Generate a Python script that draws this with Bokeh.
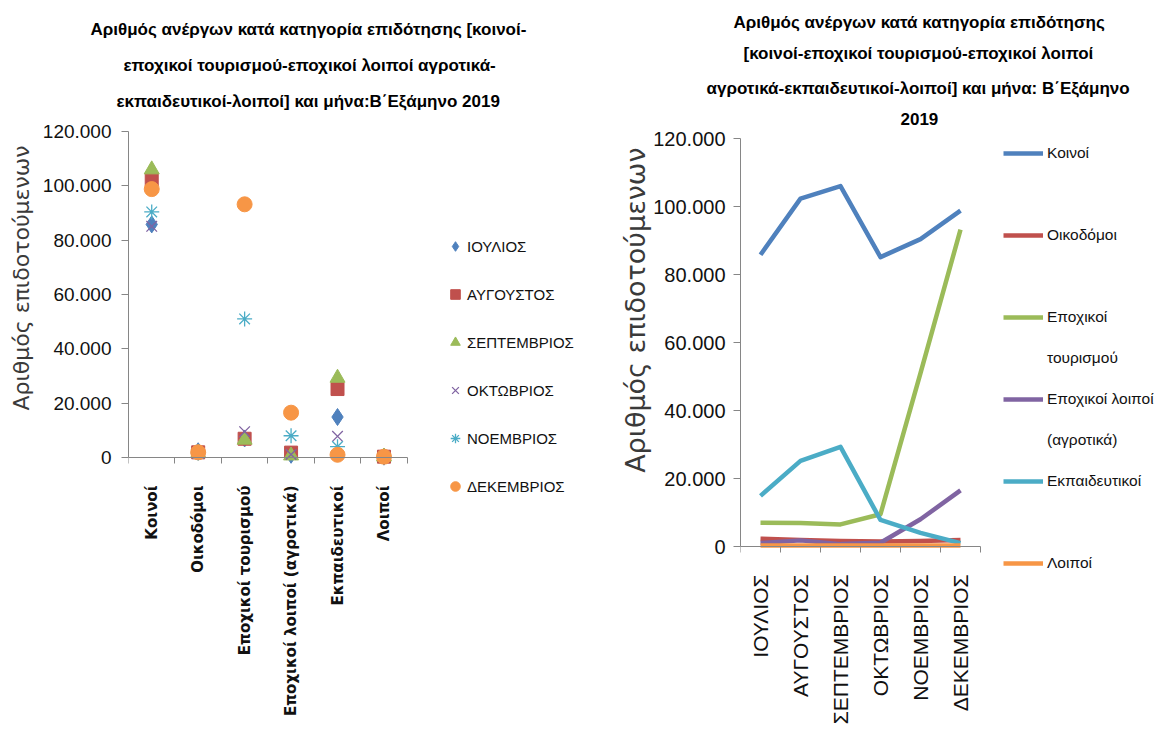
import math
from bokeh.plotting import figure
from bokeh.models import (Range1d, FixedTicker, CustomJSTickFormatter, Legend, LegendItem,
                          Title, LinearAxis)
from bokeh.core.properties import value
from bokeh.layouts import row
from bokeh.embed import file_html
from bokeh.resources import INLINE

# ---------------- data ----------------
categories = ["Κοινοί", "Οικοδόμοι", "Εποχικοί τουρισμού", "Εποχικοί λοιποί (αγροτικά)",
              "Εκπαιδευτικοί", "Λοιποί"]
months = ["ΙΟΥΛΙΟΣ", "ΑΥΓΟΥΣΤΟΣ", "ΣΕΠΤΕΜΒΡΙΟΣ", "ΟΚΤΩΒΡΙΟΣ", "ΝΟΕΜΒΡΙΟΣ", "ΔΕΚΕΜΒΡΙΟΣ"]

koinoi = [85800, 102300, 106000, 85100, 90400, 98800]
oikodomoi = [2300, 1900, 1600, 1500, 1600, 1900]
tourismou = [7000, 6900, 6500, 9500, 51000, 93200]
agrotika = [1000, 1800, 700, 1100, 8000, 16500]
ekpaideutikoi = [14900, 25200, 29300, 7800, 4000, 1000]
loipoi = [300, 300, 300, 300, 300, 300]

y_ticks = [0, 20000, 40000, 60000, 80000, 100000, 120000]

title_left = ["Αριθμός ανέργων κατά κατηγορία επιδότησης [κοινοί-",
              "εποχικοί τουρισμού-εποχικοί λοιποί αγροτικά-",
              "εκπαιδευτικοί-λοιποί] και μήνα:Β΄Εξάμηνο 2019"]
title_right = ["Αριθμός ανέργων κατά κατηγορία επιδότησης",
               "[κοινοί-εποχικοί τουρισμού-εποχικοί λοιποί",
               "αγροτικά-εκπαιδευτικοί-λοιποί] και μήνα: Β΄Εξάμηνο",
               "2019"]
right_legend_rows = ["Κοινοί", " ", "Οικοδόμοι", " ", "Εποχικοί", "τουρισμού",
                     "Εποχικοί λοιποί", "(αγροτικά)", "Εκπαιδευτικοί", " ", "Λοιποί"]
y_label = "Αριθμός επιδοτούμενων"

series_by_cat = [koinoi, oikodomoi, tourismou, agrotika, ekpaideutikoi, loipoi]

# ---------------- styles / layout ----------------
colors = ["#4F81BD", "#C0504D", "#9BBB59", "#8064A2", "#4BACC6", "#F79646"]
markers = ["diamond", "square", "triangle", "x", "asterisk", "circle"]
SANS = "'Liberation Sans', Arial, sans-serif"
AXIS_C = "#868686"
TXT = "#111111"

H = 726          # figure height
TOP = 131        # top border (frame top at page y 131)
Y_MAX = 120000
FRAME_BOTTOM = H

fmt_code = r"""return tick.toFixed(0).replace(/\B(?=(\d{3})+(?!\d))/g, ".");"""


def y_axis(font_size, standoff):
    ax = LinearAxis(ticker=FixedTicker(ticks=y_ticks, minor_ticks=[]),
                    formatter=CustomJSTickFormatter(code=fmt_code),
                    bounds=(0, Y_MAX))
    ax.axis_line_color = AXIS_C
    ax.major_tick_line_color = AXIS_C
    ax.major_tick_out = 7
    ax.major_tick_in = 0
    ax.minor_tick_out = 0
    ax.minor_tick_in = 0
    ax.major_label_text_font = SANS
    ax.major_label_text_color = TXT
    ax.major_label_text_font_size = font_size
    ax.major_label_standoff = standoff
    return ax


def y_title(size, standoff, offset):
    return Title(text=y_label, align="right", offset=offset, text_font="DejaVu Sans",
                 text_font_size=size, text_font_style="normal", text_color="#3a3a3a",
                 standoff=standoff)


def x_axis(labels):
    n = len(labels)
    ax = LinearAxis(ticker=FixedTicker(ticks=[i + 0.5 for i in range(n)],
                                       minor_ticks=list(range(n + 1))),
                    formatter=CustomJSTickFormatter(args=dict(labels=labels),
                                                    code="return labels[Math.floor(tick)] || '';"),
                    bounds=(0, n), fixed_location=0)
    ax.axis_line_color = AXIS_C
    ax.major_tick_out = 0
    ax.major_tick_in = 0
    ax.minor_tick_out = 6
    ax.minor_tick_in = 0
    ax.minor_tick_line_color = AXIS_C
    ax.major_label_orientation = math.pi / 2
    ax.major_label_text_color = TXT
    return ax


def add_titles(p, lines, offsets, standoffs, spacer=None):
    if spacer is not None:
        p.add_layout(Title(text=" ", text_font_size="1px", standoff=spacer), "above")
    for line, off, so in reversed(list(zip(lines, offsets, standoffs))):
        p.add_layout(Title(text=line, align="left", offset=off, text_font=SANS,
                           text_font_size="17px", text_font_style="bold",
                           text_color="#000000", standoff=so), "above")


def base_figure(width, left, x_end, y_start, y_end):
    p = figure(width=width, height=H, output_backend="svg", toolbar_location=None,
               x_range=Range1d(0, x_end), y_range=Range1d(y_start, y_end),
               x_axis_type=None, y_axis_type=None,
               min_border_left=left, min_border_right=0, min_border_top=TOP,
               min_border_bottom=0)
    p.outline_line_color = None
    p.background_fill_color = "white"
    p.border_fill_color = "white"
    return p


# ---------------- left chart ----------------
W1 = 588
L1 = 127                       # frame left at page x 127
zero1, top1 = 457, 131         # page y of value 0 and of 120.000
pxu1 = (zero1 - top1) / Y_MAX
cat_px1 = 46.55
x_end1 = (W1 - L1) / cat_px1

p1 = base_figure(W1, L1, x_end1, -(FRAME_BOTTOM - zero1) / pxu1, Y_MAX)
p1.add_layout(y_axis("19px", 10), "left")
p1.add_layout(y_title("22px", 12, 14), "left")

xa1 = x_axis(categories)
xa1.major_label_text_font = "DejaVu Sans"
xa1.major_label_text_font_style = "bold"
xa1.major_label_text_font_size = "15px"
xa1.major_label_standoff = 22
p1.add_layout(xa1, "below")

cat_x = [i + 0.5 for i in range(len(categories))]
left_items = []
for j, m in enumerate(months):
    vals = [s[j] for s in series_by_cat]
    mk = markers[j]
    if mk in ("x", "asterisk"):
        r = p1.scatter(x=cat_x, y=vals, marker=mk, size=15, line_color=colors[j], line_width=1.3)
    else:
        sz = {"diamond": 17, "square": 13, "triangle": 15, "circle": 15}[mk]
        r = p1.scatter(x=cat_x, y=vals, marker=mk, size=sz, fill_color=colors[j],
                       line_color=colors[j], line_width=1)
    left_items.append(LegendItem(label=value(m), renderers=[r]))

leg1 = Legend(items=left_items, location=(442 - L1, FRAME_BOTTOM - 498), ncols=1,
              border_line_color=None, background_fill_alpha=0, padding=0, margin=0,
              spacing=24, label_height=24, glyph_height=24, glyph_width=24, label_standoff=0,
              label_text_font=SANS, label_text_font_size="15px", label_text_color=TXT)
p1.add_layout(leg1)
add_titles(p1, title_left, [-38, -5, -12], [14.5, 14.5, 14.5], spacer=10)

# ---------------- right chart ----------------
W2 = 569
L2 = 740 - W1                   # frame left at page x 740
zero2, top2 = 546, 138          # page y of value 0 and of 120.000
pxu2 = (zero2 - top2) / Y_MAX
cat_px2 = 40.0
x_end2 = (W2 - L2) / cat_px2

p2 = base_figure(W2, L2, x_end2, -(FRAME_BOTTOM - zero2) / pxu2,
                 Y_MAX + (top2 - TOP) / pxu2)
p2.add_layout(y_axis("20px", 8), "left")
p2.add_layout(y_title("27px", 0, 16), "left")

xa2 = x_axis(months)
xa2.major_label_text_font = SANS
xa2.major_label_text_font_size = "21px"
xa2.major_label_standoff = 22
p2.add_layout(xa2, "below")

month_x = [i + 0.5 for i in range(len(months))]
line_rs = []
for k, s in enumerate(series_by_cat):
    r = p2.line(x=month_x, y=s, line_color=colors[k], line_width=4.5, line_join="round")
    line_rs.append(r)
blank = p2.line(x=[], y=[], line_alpha=0)

row_renderers = [line_rs[0], blank, line_rs[1], blank, line_rs[2], blank,
                 line_rs[3], blank, line_rs[4], blank, line_rs[5]]
right_items = [LegendItem(label=value(t), renderers=[r])
               for t, r in zip(right_legend_rows, row_renderers)]
leg2 = Legend(items=right_items, location=(1003 - 740, FRAME_BOTTOM - 574), ncols=1,
              border_line_color=None, background_fill_alpha=0, padding=0, margin=0,
              spacing=19, label_height=22, glyph_height=22, glyph_width=40, label_standoff=4,
              label_text_font=SANS, label_text_font_size="15.5px", label_text_color=TXT)
p2.add_layout(leg2)
add_titles(p2, title_right, [-7, 3, -34, 160], [6, 15, 13, 13])

layout = row(p1, p2)
open("out.html", "w").write(file_html(layout, INLINE))
